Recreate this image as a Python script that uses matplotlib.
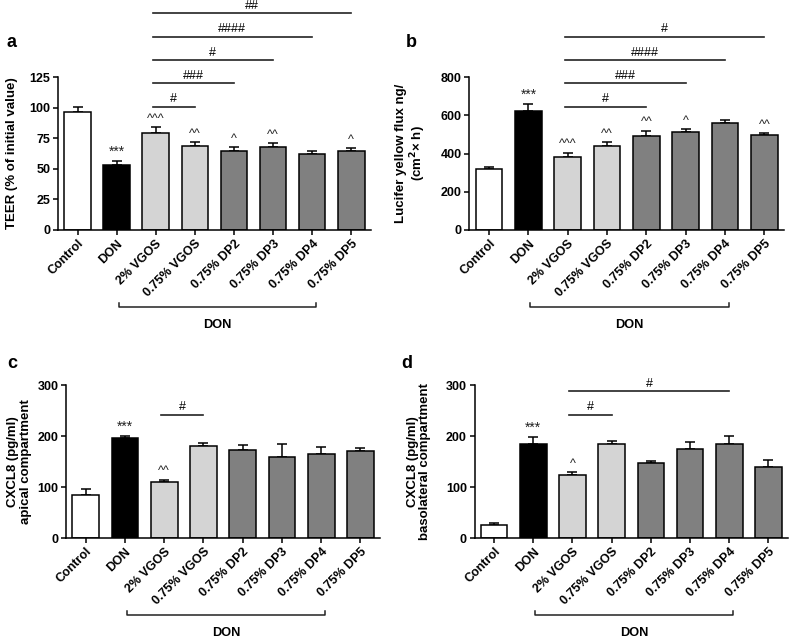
import matplotlib.pyplot as plt
import matplotlib.transforms as mtransforms

plt.rcParams['font.family'] = ['Liberation Sans', 'DejaVu Sans']

groups = ["Control", "DON", "2% VGOS", "0.75% VGOS", "0.75% DP2",
          "0.75% DP3", "0.75% DP4", "0.75% DP5"]
barColors = ["white", "black", "#d4d4d4", "#d4d4d4",
             "#808080", "#808080", "#808080", "#808080"]

# a: TEER
teerMean = [96.5, 52.8, 79.5, 68.3, 64.8, 67.8, 62.3, 64.2]
teerErr = [4.2, 3.3, 4.4, 3.3, 3.0, 3.3, 2.5, 2.8]
teerMarks = ["", "***", "^^^", "^^", "^", "^^", "", "^"]
teerComp = [(3, "#"), (4, "###"), (5, "#"), (6, "####"), (7, "##")]

# b: Lucifer yellow flux
lyMean = [320, 624, 384, 440, 493, 512, 559, 496]
lyErr = [12, 34, 21, 18, 27, 15, 14, 10]
lyMarks = ["", "***", "^^^", "^^", "^^", "^", "", "^^"]
lyComp = [(4, "#"), (5, "###"), (6, "####"), (7, "#")]

# c: CXCL8 apical
apMean = [84.8, 197, 109.6, 180, 172, 158.5, 164, 171]
apErr = [11, 4, 5, 6.6, 10, 25.5, 15, 6]
apMarks = ["", "***", "^^", "", "", "", "", ""]
apComp = [(3, "#")]

# d: CXCL8 basolateral
blMean = [24.8, 184, 123, 184.6, 146.8, 174.8, 184, 139]
blErr = [4.6, 13.6, 7, 6.4, 4.2, 13.2, 16, 13.6]
blMarks = ["", "***", "^", "", "", "", "", ""]
blComp = [(3, "#"), (6, "#")]


def drawPanel(rect, mean, err, marks, comps, ymax, step, ylabel, labelX, letter, letterPos):
    ax = fig.add_axes(rect)
    x = list(range(len(groups)))
    ax.bar(x, mean, width=0.68, color=barColors, edgecolor="black", linewidth=1.1, zorder=2)
    ax.errorbar(x, mean, yerr=[[0] * len(err), err], fmt="none", ecolor="black",
                elinewidth=1.1, capsize=3.6, capthick=1.1, zorder=1)
    for i in range(len(marks)):
        if marks[i] == "":
            continue
        size = 10 if marks[i].startswith("*") else 9
        ax.annotate(marks[i], (x[i], mean[i] + err[i]), xytext=(0, 1.5),
                    textcoords="offset points", ha="center", va="bottom",
                    fontsize=size, color="#222222")
    # comparisons with 2% VGOS
    for k in range(len(comps)):
        end, txt = comps[k]
        level = ymax * (0.805 + 0.153 * k)
        ax.plot([1.92, end], [level, level], color="#222222", lw=1.2, clip_on=False)
        ax.annotate(txt, ((1.92 + end) / 2, level), xytext=(0, 1),
                    textcoords="offset points", ha="center", va="bottom",
                    fontsize=9, annotation_clip=False)
    ax.set_xlim(-0.5, len(groups) - 0.5)
    ax.set_ylim(0, ymax)
    ax.set_yticks(range(0, ymax + 1, step))
    ax.set_xticks(x)
    ax.set_xticklabels(groups, rotation=45, ha="right", rotation_mode="anchor",
                       fontsize=9, fontweight="bold")
    for lab in ax.get_yticklabels():
        lab.set_fontweight("bold")
        lab.set_fontsize(9)
    ax.tick_params(width=1.1, length=3.5, pad=2)
    ax.spines["top"].set_visible(False)
    ax.spines["right"].set_visible(False)
    ax.spines["left"].set_linewidth(1.1)
    ax.spines["bottom"].set_linewidth(1.1)
    ax.set_ylabel(ylabel, fontsize=9.5, fontweight="bold", linespacing=1.05, va="center")
    ax.yaxis.set_label_coords(labelX, 0.5)
    # DON bracket under the tick labels
    trans = mtransforms.blended_transform_factory(ax.transData, ax.transAxes)
    ax.plot([1.05, 1.05, 6.1, 6.1], [-0.475, -0.505, -0.505, -0.475], color="#222222",
            lw=1.1, transform=trans, clip_on=False)
    ax.text(3.575, -0.62, "DON", transform=trans, ha="center", va="center",
            fontsize=9.2, fontweight="bold")
    fig.text(letterPos[0], letterPos[1], letter, fontsize=13, fontweight="bold",
             ha="center", va="center")
    return ax


fig = plt.figure(figsize=(7.89, 6.38), dpi=100)

drawPanel([0.0735, 0.6395, 0.3965, 0.2398], teerMean, teerErr, teerMarks, teerComp,
          125, 25, "TEER (% of initial value)", -0.147, "a", (0.014, 0.933))
drawPanel([0.595, 0.6395, 0.3987, 0.2398], lyMean, lyErr, lyMarks, lyComp,
          800, 200, "Lucifer yellow flux ng/\n(cm$^{\\mathbf{2}}$\u00d7 h)", -0.184, "b", (0.521, 0.933))
drawPanel([0.0837, 0.1567, 0.398, 0.2398], apMean, apErr, apMarks, apComp,
          300, 100, "CXCL8 (pg/ml)\napical compartment", -0.148, "c", (0.015, 0.431))
drawPanel([0.6014, 0.1567, 0.3973, 0.2398], blMean, blErr, blMarks, blComp,
          300, 100, "CXCL8 (pg/ml)\nbasolateral compartment", -0.177, "d", (0.515, 0.431))

plt.savefig("out.png", dpi=100)
